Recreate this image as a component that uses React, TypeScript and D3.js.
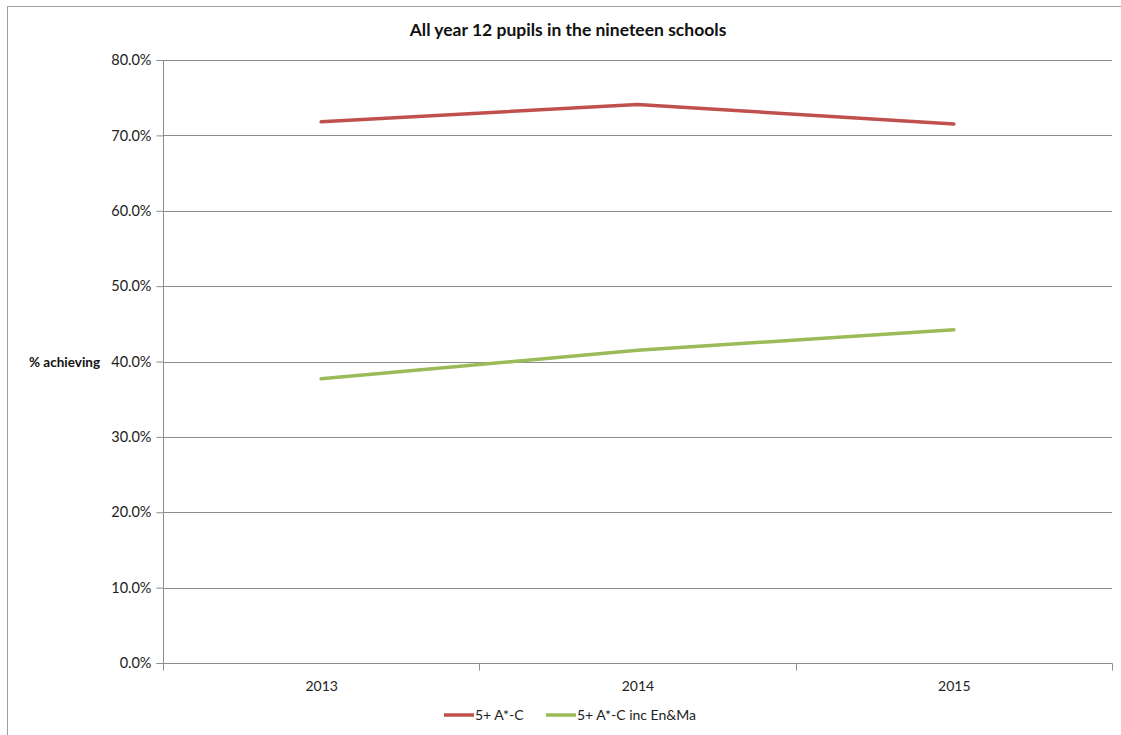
import React, { useEffect, useRef } from "react";
import * as d3 from "d3";

const years = ["2013", "2014", "2015"];
const allGrades = [0.718, 0.741, 0.715];
const incEnMa = [0.377, 0.415, 0.442];
const seriesNames = ["5+ A*-C", "5+ A*-C inc En&Ma"];
const seriesColors = ["#c0504d", "#9bbb59"];
const yTicks = [0, 0.1, 0.2, 0.3, 0.4, 0.5, 0.6, 0.7, 0.8];

const W = 1121;
const H = 735;
const plot = { left: 163, right: 1112, top: 60, bottom: 663 };
const FONT = "Lato, 'Open Sans', sans-serif";

export default function App() {
  const ref = useRef<SVGSVGElement | null>(null);

  useEffect(() => {
    const svg = d3.select(ref.current);
    svg.selectAll("*").remove();

    // chart frame
    svg.append("rect")
      .attr("x", 7.5).attr("y", 6.5)
      .attr("width", W + 20).attr("height", H + 20)
      .attr("fill", "#fff").attr("stroke", "#a0a0a0").attr("stroke-width", 1);

    const x = d3.scaleBand<string>().domain(years).range([plot.left, plot.right]);
    const y = d3.scaleLinear().domain([0, 0.8]).range([plot.bottom, plot.top]);
    const fmt = d3.format(".1%");

    // horizontal gridlines
    svg.append("g").selectAll("line").data(yTicks.filter((t) => t > 0)).join("line")
      .attr("x1", plot.left).attr("x2", plot.right)
      .attr("y1", (d) => Math.round(y(d)) + 0.5).attr("y2", (d) => Math.round(y(d)) + 0.5)
      .attr("stroke", "#8c8c8c").attr("stroke-width", 1);

    // y axis
    const yAxis = svg.append("g")
      .attr("transform", `translate(${plot.left + 0.5},0.5)`)
      .call(d3.axisLeft(y).tickValues(yTicks).tickFormat((d) => fmt(d as number)).tickSize(7).tickPadding(5)
        .offset(0));
    yAxis.select(".domain").attr("stroke", "#8c8c8c");
    yAxis.selectAll(".tick line").attr("stroke", "#8c8c8c");
    yAxis.selectAll(".tick text")
      .attr("font-family", FONT).attr("font-size", 14.5).attr("fill", "#222");

    // x axis
    const xAxisG = svg.append("g").attr("transform", `translate(0.5,${Math.round(plot.bottom) + 0.5})`);
    xAxisG.append("line")
      .attr("x1", plot.left).attr("x2", plot.right)
      .attr("stroke", "#8c8c8c");
    const bounds = [...years.map((d) => x(d)!), plot.right];
    xAxisG.selectAll("line.tk").data(bounds).join("line").attr("class", "tk")
      .attr("x1", (d) => Math.round(d)).attr("x2", (d) => Math.round(d))
      .attr("y1", 0).attr("y2", 7).attr("stroke", "#8c8c8c");
    xAxisG.selectAll("text").data(years).join("text")
      .attr("x", (d) => x(d)! + x.bandwidth() / 2)
      .attr("y", 27)
      .attr("text-anchor", "middle")
      .attr("font-family", FONT).attr("font-size", 14).attr("fill", "#222")
      .text((d) => d);

    // series lines
    const line = d3.line<number>()
      .x((_, i) => x(years[i])! + x.bandwidth() / 2)
      .y((d) => y(d));
    [allGrades, incEnMa].forEach((vals, i) => {
      svg.append("path")
        .attr("d", line(vals))
        .attr("fill", "none")
        .attr("stroke", seriesColors[i])
        .attr("stroke-width", 3.5)
        .attr("stroke-linejoin", "round")
        .attr("stroke-linecap", "round");
    });

    // title
    svg.append("text")
      .attr("x", 568).attr("y", 36)
      .attr("text-anchor", "middle")
      .attr("font-family", FONT).attr("font-size", 17.5).attr("font-weight", "bold").attr("fill", "#111")
      .text("All year 12 pupils in the nineteen schools");

    // y axis title
    svg.append("text")
      .attr("x", 29).attr("y", y(0.4) + 5)
      .attr("font-family", FONT).attr("font-size", 13.5).attr("font-weight", "bold").attr("fill", "#111")
      .text("% achieving");

    // legend
    const legend = svg.append("g").attr("transform", "translate(444,715)");
    const offsets = [0, 102];
    seriesNames.forEach((name, i) => {
      const g = legend.append("g").attr("transform", `translate(${offsets[i]},0)`);
      g.append("line").attr("x1", 0).attr("x2", 30).attr("y1", 0).attr("y2", 0)
        .attr("stroke", seriesColors[i]).attr("stroke-width", 3.5);
      g.append("text").attr("x", 31).attr("y", 5)
        .attr("font-family", FONT).attr("font-size", 14).attr("fill", "#222")
        .text(name);
    });
  }, []);

  return (
    <svg
      ref={ref}
      width={W}
      height={H}
      style={{ position: "absolute", left: 0, top: 0, background: "#fff" }}
    />
  );
}
